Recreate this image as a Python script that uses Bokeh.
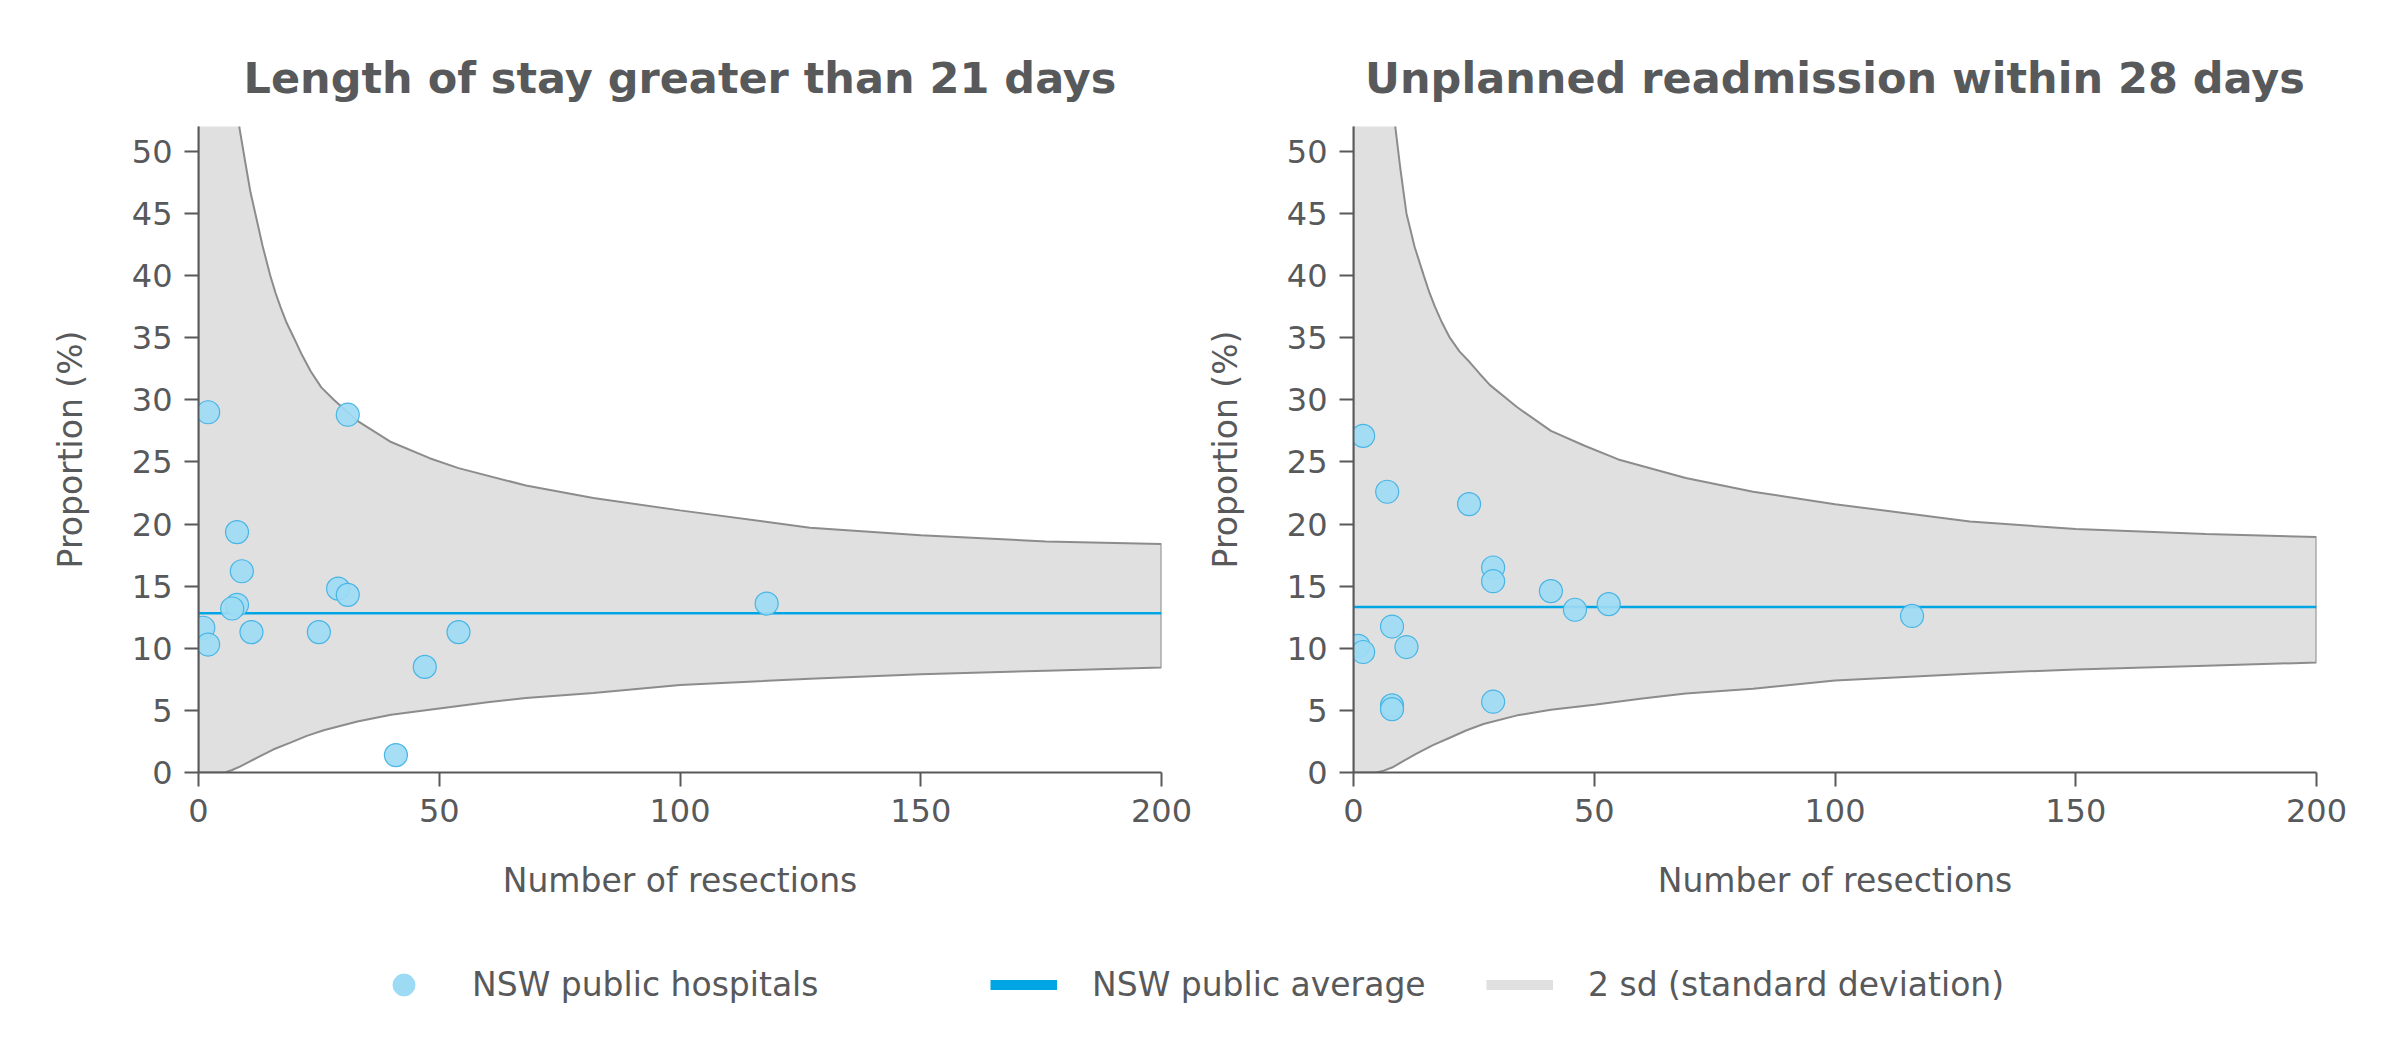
from bokeh.embed import file_html
from bokeh.layouts import column, row
from bokeh.models import Legend, LegendItem, Range1d
from bokeh.plotting import figure
from bokeh.resources import INLINE

TEXT = "#58595b"
AXIS = "#58595b"
FONT = "DejaVu Sans"
DOT_FILL = "#9ddbf4"
DOT_LINE = "#48b5e5"
AVG_COLOR = "#00a5e3"
BAND_FILL = "#e0e0e0"
BAND_LINE = "#8c8c8c"

x_ticks = [0, 50, 100, 150, 200]
y_ticks = [0, 5, 10, 15, 20, 25, 30, 35, 40, 45, 50]
y_top = 52

# Length of stay greater than 21 days
los_title = "Length of stay greater than 21 days"
los_n = [2, 31, 8, 9, 8, 7, 1, 2, 11, 25, 29, 31, 54, 47, 41, 118]
los_pct = [29.0, 28.8, 19.35, 16.2, 13.5, 13.2, 11.65, 10.3, 11.3, 11.3, 14.8, 14.3, 11.3, 8.5, 1.4, 13.6]
los_avg = 12.82
los_upper_n = [0, 5, 8.5, 9.9, 10.8, 11.8, 13.3, 14.9, 16, 17, 18.3, 19.8, 21.5, 23.3, 25.5,
               28.1, 33, 40, 48, 54, 68, 82, 100, 127, 150, 176, 200]
los_upper = [100, 75, 51.9, 48.7, 46.7, 45.0, 42.4, 40.0, 38.6, 37.5, 36.2, 35.0, 33.6, 32.3, 31.0,
             30.0, 28.3, 26.6, 25.3, 24.5, 23.1, 22.1, 21.1, 19.7, 19.1, 18.6, 18.4]
los_lower_n = [0, 5.5, 7, 8.7, 10.5, 12.2, 15.5, 19.1, 22.5, 26, 33, 40, 50, 60, 68, 82, 100, 127, 150, 176, 200]
los_lower = [0, 0, 0.2, 0.5, 0.85, 1.2, 1.85, 2.4, 2.95, 3.4, 4.1, 4.65, 5.15, 5.65, 6.0, 6.4, 7.05, 7.55,
             7.9, 8.2, 8.45]

# Unplanned readmission within 28 days
readm_title = "Unplanned readmission within 28 days"
readm_n = [2, 7, 24, 29, 29, 41, 46, 53, 116, 8, 1, 2, 11, 8, 8, 29]
readm_pct = [27.1, 22.6, 21.6, 16.5, 15.4, 14.6, 13.1, 13.55, 12.6, 11.75, 10.2, 9.7, 10.1, 5.4, 5.1, 5.7]
readm_avg = 13.33
readm_upper_n = [0, 5, 8.7, 9.7, 10.4, 11, 12.7, 14.6, 15.7, 16.9, 18.4, 20, 22, 24.2, 26.2,
                 28.3, 34, 41, 48, 55, 69, 83, 100, 128, 150, 177, 200]
readm_upper = [100, 75, 51.9, 48.7, 46.7, 45, 42.3, 40, 38.7, 37.5, 36.2, 35, 33.9, 33.0, 32.1,
               31.2, 29.4, 27.5, 26.3, 25.2, 23.7, 22.6, 21.6, 20.2, 19.6, 19.2, 18.95]
readm_lower_n = [0, 4.7, 6.3, 8, 10.5, 13, 16.5, 20, 23.5, 27, 34, 41, 50, 60, 69, 83, 100, 128, 150, 177, 200]
readm_lower = [0, 0, 0.15, 0.4, 0.95, 1.5, 2.2, 2.8, 3.4, 3.9, 4.6, 5.05, 5.45, 5.95, 6.35, 6.75, 7.4,
               7.95, 8.3, 8.6, 8.85]

legend_labels = ["NSW public hospitals", "NSW public average", "2 sd (standard deviation)"]


def funnel_figure(title, n, pct, avg, up_n, up, lo_n, lo, border_left, border_right):
    p = figure(
        width=border_left + 963 + border_right,
        height=912,
        x_range=Range1d(x_ticks[0], x_ticks[-1]),
        y_range=Range1d(0, y_top),
        toolbar_location=None,
        output_backend="svg",
        min_border_left=border_left,
        min_border_right=border_right,
        min_border_top=126,
        min_border_bottom=140,
        outline_line_color=None,
    )
    p.grid.visible = False

    p.title.text = title
    p.title.align = "center"
    p.title.text_font = FONT
    p.title.text_font_size = "43px"
    p.title.text_font_style = "bold"
    p.title.text_color = TEXT
    p.title.standoff = 48

    band_x = up_n + lo_n[::-1]
    band_y = up + lo[::-1]
    p.patch(band_x, band_y, fill_color=BAND_FILL, line_color=BAND_LINE, line_width=2)
    p.line([up_n[0], up_n[-1]], [avg, avg], line_color=AVG_COLOR, line_width=2.5)
    p.scatter(n, pct, size=23, fill_color=DOT_FILL, fill_alpha=0.92,
              line_color=DOT_LINE, line_width=1.2)

    p.xaxis.ticker = x_ticks
    p.yaxis.ticker = y_ticks
    p.xaxis.axis_label = "Number of resections"
    p.yaxis.axis_label = "Proportion (%)"
    for ax in p.axis:
        ax.axis_line_color = AXIS
        ax.axis_line_width = 2
        ax.major_tick_line_color = AXIS
        ax.major_tick_line_width = 2
        ax.major_tick_out = 14
        ax.major_tick_in = 0
        ax.minor_tick_line_color = None
        ax.major_label_text_font = FONT
        ax.major_label_text_font_size = "32px"
        ax.major_label_text_color = TEXT
        ax.major_label_standoff = 12
        ax.axis_label_text_font = FONT
        ax.axis_label_text_font_size = "33px"
        ax.axis_label_text_font_style = "normal"
        ax.axis_label_text_color = TEXT
    p.xaxis.axis_label_standoff = 36
    p.yaxis.axis_label_standoff = 39
    return p


p1 = funnel_figure(los_title, los_n, los_pct, los_avg, los_upper_n, los_upper,
                   los_lower_n, los_lower, 198, 31)
p2 = funnel_figure(readm_title, readm_n, readm_pct, readm_avg, readm_upper_n, readm_upper,
                   readm_lower_n, readm_lower, 161, 68)

leg = figure(width=2384, height=130, x_range=Range1d(0, 1), y_range=Range1d(0, 1),
             toolbar_location=None, output_backend="svg", min_border=0,
             x_axis_location=None, y_axis_location=None, outline_line_color=None)
leg.grid.visible = False
nan = [float("nan")]
r_dots = leg.scatter(nan, nan, size=22, fill_color=DOT_FILL, line_color=DOT_FILL)
r_avg = leg.line(nan, nan, line_color=AVG_COLOR, line_width=10)
r_band = leg.line(nan, nan, line_color=BAND_FILL, line_width=10)

for label, rend, x0 in zip(legend_labels, [r_dots, r_avg, r_band], [370, 990, 1486]):
    lg = Legend(
        items=[LegendItem(label=label, renderers=[rend])],
        location=(x0, 30),
        orientation="horizontal",
        glyph_width=67,
        glyph_height=55,
        label_height=55,
        label_standoff=35,
        padding=0,
        margin=0,
        spacing=0,
        border_line_color=None,
        background_fill_alpha=0,
        label_text_font=FONT,
        label_text_font_size="33px",
        label_text_color=TEXT,
    )
    leg.add_layout(lg)

layout = column(row(p1, p2), leg)
open("out.html", "w").write(file_html(layout, INLINE))
